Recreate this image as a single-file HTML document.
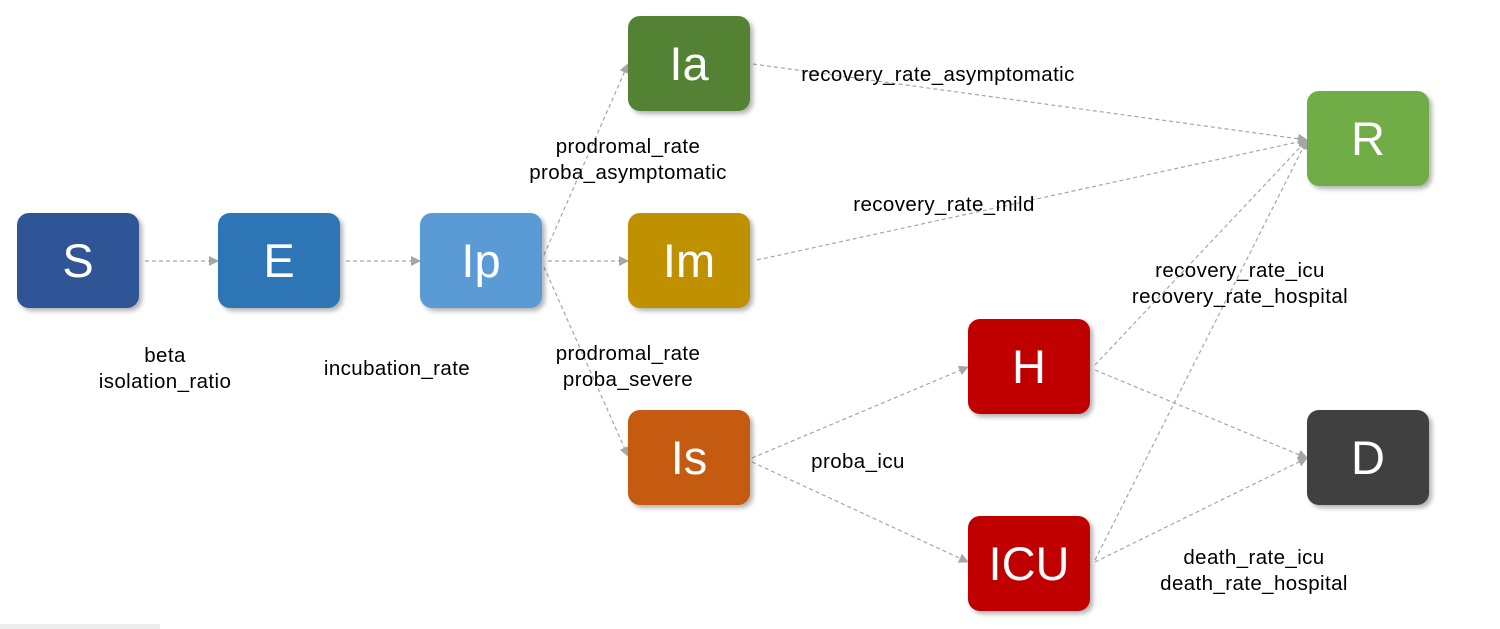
<!DOCTYPE html>
<html><head><style>
body{margin:0;width:1500px;height:629px;background:#fff;position:relative;overflow:hidden;font-family:"Liberation Sans",sans-serif}
.b{position:absolute;width:122px;height:95px;border-radius:12px;color:#fff;font-size:47px;display:flex;align-items:center;justify-content:center;box-shadow:3px 3px 5px rgba(0,0,0,0.3)}
.l{position:absolute;font-size:20.5px;letter-spacing:0.4px;color:#000;text-align:center;line-height:26px;white-space:nowrap;transform:translateX(-50%)}
svg{position:absolute;left:0;top:0}
</style></head><body>
<svg width="1500" height="629">
<defs><marker id="a" markerWidth="10" markerHeight="10" refX="9" refY="5" orient="auto" markerUnits="userSpaceOnUse"><path d="M0,0 L10,5 L0,10z" fill="#a6a6a6"/></marker></defs>
<g stroke="#a6a6a6" stroke-width="1.2" stroke-dasharray="4,3" fill="none" marker-end="url(#a)">
<line x1="145" y1="261" x2="218" y2="261"/>
<line x1="346" y1="261" x2="420" y2="261"/>
<line x1="548" y1="261" x2="628" y2="261"/>
<line x1="544" y1="255" x2="628" y2="64"/>
<line x1="544" y1="267" x2="628" y2="456"/>
<line x1="753" y1="64" x2="1307" y2="140"/>
<line x1="757" y1="260" x2="1307" y2="140"/>
<line x1="752" y1="458" x2="968" y2="367"/>
<line x1="752" y1="462" x2="968" y2="562"/>
<line x1="1095" y1="365" x2="1307" y2="140"/>
<line x1="1095" y1="560" x2="1307" y2="140"/>
<line x1="1095" y1="370" x2="1307" y2="458"/>
<line x1="1095" y1="562" x2="1307" y2="458"/>
</g>
<rect x="0" y="624" width="160" height="5" fill="#ececec"/>
</svg>
<div class="b" style="left:17px;top:213px;background:#2F5597">S</div>
<div class="b" style="left:218px;top:213px;background:#2E75B6">E</div>
<div class="b" style="left:420px;top:213px;background:#5B9BD5">Ip</div>
<div class="b" style="left:628px;top:16px;background:#548235">Ia</div>
<div class="b" style="left:628px;top:213px;background:#BF9000">Im</div>
<div class="b" style="left:628px;top:410px;background:#C55A11">Is</div>
<div class="b" style="left:968px;top:319px;background:#C00000">H</div>
<div class="b" style="left:968px;top:516px;background:#C00000">ICU</div>
<div class="b" style="left:1307px;top:91px;background:#70AD47">R</div>
<div class="b" style="left:1307px;top:410px;background:#404040">D</div>
<div class="l" style="left:165px;top:343px">beta<br>isolation_ratio</div>
<div class="l" style="left:397px;top:356px">incubation_rate</div>
<div class="l" style="left:628px;top:134px">prodromal_rate<br>proba_asymptomatic</div>
<div class="l" style="left:628px;top:341px">prodromal_rate<br>proba_severe</div>
<div class="l" style="left:938px;top:62px">recovery_rate_asymptomatic</div>
<div class="l" style="left:944px;top:192px">recovery_rate_mild</div>
<div class="l" style="left:1240px;top:258px">recovery_rate_icu<br>recovery_rate_hospital</div>
<div class="l" style="left:858px;top:449px">proba_icu</div>
<div class="l" style="left:1254px;top:545px">death_rate_icu<br>death_rate_hospital</div>
</body></html>
